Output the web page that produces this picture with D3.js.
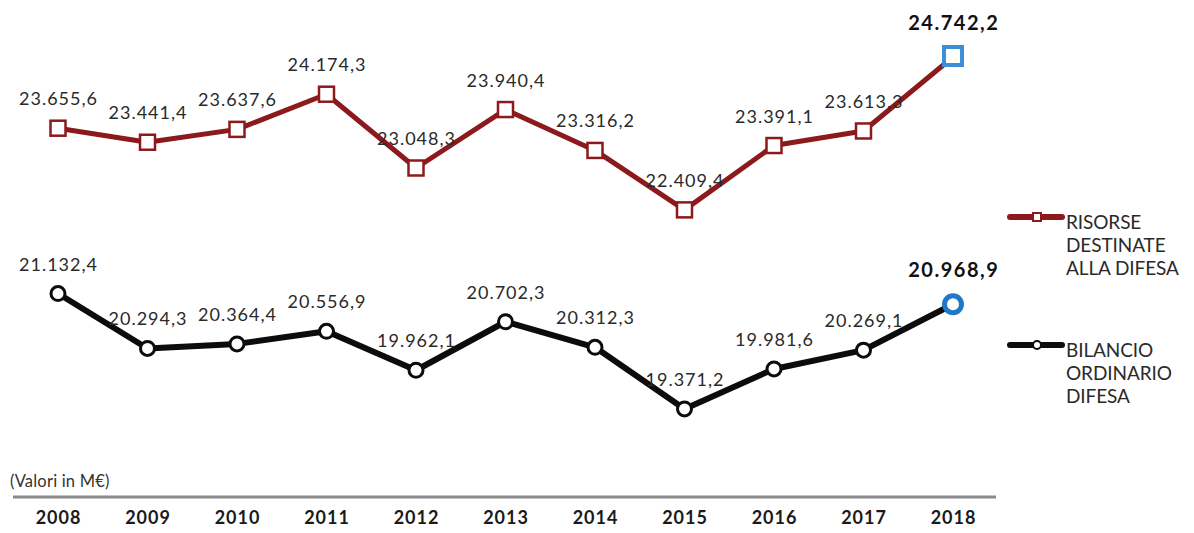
<!DOCTYPE html>
<html>
<head>
<meta charset="utf-8">
<script src="https://cdn.jsdelivr.net/npm/d3@7"></script>
<style>
  html, body { margin: 0; padding: 0; background: #fff; }
  svg { display: block; font-family: Lato, "Open Sans", sans-serif; }
</style>
</head>
<body>
<svg id="chart" width="1194" height="533"></svg>
<script>
// Defence budget series (M€)
const years = ["2008", "2009", "2010", "2011", "2012", "2013", "2014", "2015", "2016", "2017", "2018"];
const risorse = [23655.6, 23441.4, 23637.6, 24174.3, 23048.3, 23940.4, 23316.2, 22409.4, 23391.1, 23613.3, 24742.2];
const bilancio = [21132.4, 20294.3, 20364.4, 20556.9, 19962.1, 20702.3, 20312.3, 19371.2, 19981.6, 20269.1, 20968.9];
const seriesNames = [["RISORSE", "DESTINATE", "ALLA DIFESA"], ["BILANCIO", "ORDINARIO", "DIFESA"]];

const RED = "#8c1a1c";
const BLACK = "#0c0c0c";
const BLUE = "#3a8fd6";
const TEXT = "#2a2a2a";

const svg = d3.select("#chart");

const x = d3.scalePoint().domain(years).range([58, 953]);
const y = d3.scaleLinear().domain([19000, 25000]).range([433.3, 40.1]);

const fmt = v => {
  const s = v.toFixed(1).replace(".", ",");
  const [int, dec] = s.split(",");
  return int.replace(/\B(?=(\d{3})+(?!\d))/g, ".") + "," + dec;
};

// Baseline and year axis
svg.append("line")
  .attr("x1", 13).attr("x2", 996).attr("y1", 497).attr("y2", 497)
  .attr("stroke", "#8a8a8a").attr("stroke-width", 3);

const xAxis = svg.append("g").attr("transform", "translate(0,505)")
  .call(d3.axisBottom(x).tickSize(0).tickPadding(0));
xAxis.select(".domain").remove();
xAxis.selectAll("text")
  .attr("dy", "1.05em")
  .attr("font-family", "Lato, sans-serif")
  .attr("font-size", 18).attr("font-weight", "bold").attr("fill", "#1a1a1a")
  .attr("letter-spacing", 1);

svg.append("text")
  .attr("x", 10).attr("y", 487)
  .attr("font-size", 16.5).attr("fill", "#333")
  .attr("letter-spacing", 0.2)
  .text("(Valori in M€)");

const line = d3.line().x((d, i) => x(years[i])).y(d => y(d));

// Red series: resources allocated to defence
svg.append("path").datum(risorse)
  .attr("d", line).attr("fill", "none")
  .attr("stroke", RED).attr("stroke-width", 5).attr("stroke-linejoin", "round");

// Black series: ordinary defence budget
svg.append("path").datum(bilancio)
  .attr("d", line).attr("fill", "none")
  .attr("stroke", BLACK).attr("stroke-width", 6).attr("stroke-linejoin", "round");

const last = years.length - 1;

// Square markers (latest year highlighted in blue)
const sq = i => i === last ? 18 : 15;
svg.append("g").selectAll("rect").data(risorse).join("rect")
  .attr("x", (d, i) => x(years[i]) - sq(i) / 2)
  .attr("y", (d, i) => y(d) - sq(i) / 2 - (i === last ? 1 : 0))
  .attr("width", (d, i) => sq(i))
  .attr("height", (d, i) => sq(i))
  .attr("fill", "#fff")
  .attr("stroke", (d, i) => i === last ? BLUE : RED)
  .attr("stroke-width", (d, i) => i === last ? 4 : 2.5);

// Circle markers (latest year highlighted in blue)
svg.append("g").selectAll("circle").data(bilancio).join("circle")
  .attr("cx", (d, i) => x(years[i]))
  .attr("cy", d => y(d))
  .attr("r", (d, i) => i === last ? 8.5 : 7)
  .attr("fill", "#fff")
  .attr("stroke", (d, i) => i === last ? "#1f78c8" : BLACK)
  .attr("stroke-width", (d, i) => i === last ? 5 : 3);

// Value labels
function labels(data) {
  svg.append("g").selectAll("text").data(data).join("text")
    .attr("x", (d, i) => x(years[i]) + (i === last ? 0.75 : 0.5))
    .attr("y", (d, i) => y(d) - (i === last ? 27 : 23))
    .attr("text-anchor", "middle")
    .attr("font-size", (d, i) => i === last ? 20 : 18)
    .attr("letter-spacing", (d, i) => i === last ? 1.5 : 1)
    .attr("font-weight", (d, i) => i === last ? "bold" : "normal")
    .attr("fill", (d, i) => i === last ? "#111" : TEXT)
    .text(d => fmt(d));
}
labels(risorse);
labels(bilancio);

// Legend
const legend = [
  { color: RED, y: 217, shape: "rect", width: 6 },
  { color: BLACK, y: 345, shape: "circle", width: 6 }
];
legend.forEach((l, k) => {
  const g = svg.append("g");
  g.append("line").attr("x1", 1010).attr("x2", 1062).attr("y1", l.y).attr("y2", l.y)
    .attr("stroke", l.color).attr("stroke-width", l.width).attr("stroke-linecap", "round");
  if (l.shape === "rect") {
    g.append("rect").attr("x", 1033).attr("y", l.y - 4).attr("width", 8).attr("height", 8)
      .attr("fill", "#fff").attr("stroke", l.color).attr("stroke-width", 2);
  } else {
    g.append("circle").attr("cx", 1037).attr("cy", l.y).attr("r", 4)
      .attr("fill", "#fff").attr("stroke", l.color).attr("stroke-width", 2);
  }
  g.selectAll("text").data(seriesNames[k]).join("text")
    .attr("x", 1066)
    .attr("y", (d, i) => l.y + 12 + i * 23)
    .attr("font-size", 19).attr("fill", TEXT)
    .attr("letter-spacing", -0.1)
    .text(d => d);
});
</script>
</body>
</html>
